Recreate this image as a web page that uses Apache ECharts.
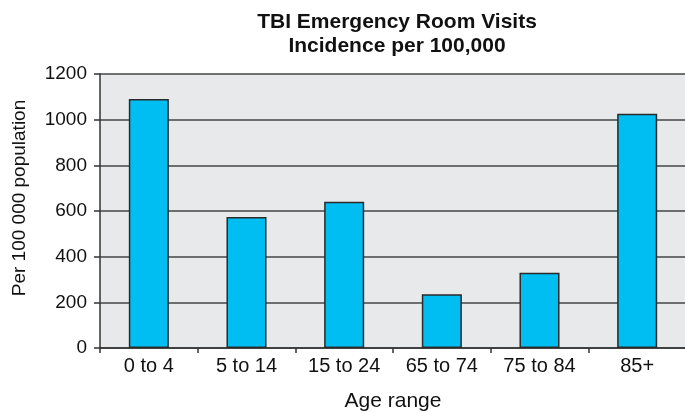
<!DOCTYPE html>
<html>
<head>
<meta charset="utf-8">
<script src="https://cdn.jsdelivr.net/npm/echarts@6/dist/echarts.min.js"></script>
<style>
  html, body { margin: 0; padding: 0; background: #fff; }
  #chart { width: 685px; height: 413px; }
</style>
</head>
<body>
<div id="chart"></div>
<script>
// Age groups and ER visit incidence per 100,000
const ageRanges = ['0 to 4', '5 to 14', '15 to 24', '65 to 74', '75 to 84', '85+'];
const visitRates = [1090, 574, 640, 235, 330, 1026];
const yTicks = [0, 200, 400, 600, 800, 1000, 1200];

const font = 'Liberation Sans, Arial, Helvetica, sans-serif';
const chart = echarts.init(document.getElementById('chart'));

chart.setOption({
  animation: false,
  title: {
    text: 'TBI Emergency Room Visits\nIncidence per 100,000',
    left: 392,
    textAlign: 'center',
    top: 5,
    textStyle: { fontFamily: font, fontSize: 21, fontWeight: 'bold', color: '#111', lineHeight: 24 }
  },
  graphic: [{
    type: 'text',
    x: 20,
    y: 198,
    rotation: Math.PI / 2,
    style: {
      text: 'Per 100 000 population',
      fontFamily: font,
      fontSize: 19,
      fill: '#111',
      align: 'center',
      verticalAlign: 'middle'
    }
  }],
  grid: {
    left: 100, right: -1, top: 74, bottom: 65,
    outerBoundsMode: 'none',
    backgroundColor: '#e8e9eb', show: true, borderWidth: 0
  },
  xAxis: {
    type: 'category',
    data: ageRanges,
    name: 'Age range',
    nameLocation: 'middle',
    nameGap: 43,
    nameTextStyle: { fontFamily: font, fontSize: 21, color: '#111' },
    axisLine: { show: true, lineStyle: { color: '#333', width: 1.5 } },
    axisTick: { show: true, alignWithLabel: false, length: 5, lineStyle: { color: '#333', width: 1.5 } },
    axisLabel: { fontFamily: font, fontSize: 20, color: '#111', margin: 8 }
  },
  yAxis: {
    type: 'value',
    min: yTicks[0],
    max: yTicks[yTicks.length - 1],
    interval: 200,
    axisLine: { show: true, lineStyle: { color: '#333', width: 1.5 } },
    axisTick: { show: true, length: 6, lineStyle: { color: '#333', width: 1.5 } },
    axisLabel: { fontFamily: font, fontSize: 19, color: '#111', margin: 13, formatter: v => String(v) },
    splitLine: { show: true, lineStyle: { color: '#444', width: 1.5 } }
  },
  series: [{
    type: 'bar',
    data: visitRates,
    barWidth: '41%',
    itemStyle: { color: '#00bef2', borderColor: '#2a2a2a', borderWidth: 1.5 }
  }]
});
</script>
</body>
</html>
